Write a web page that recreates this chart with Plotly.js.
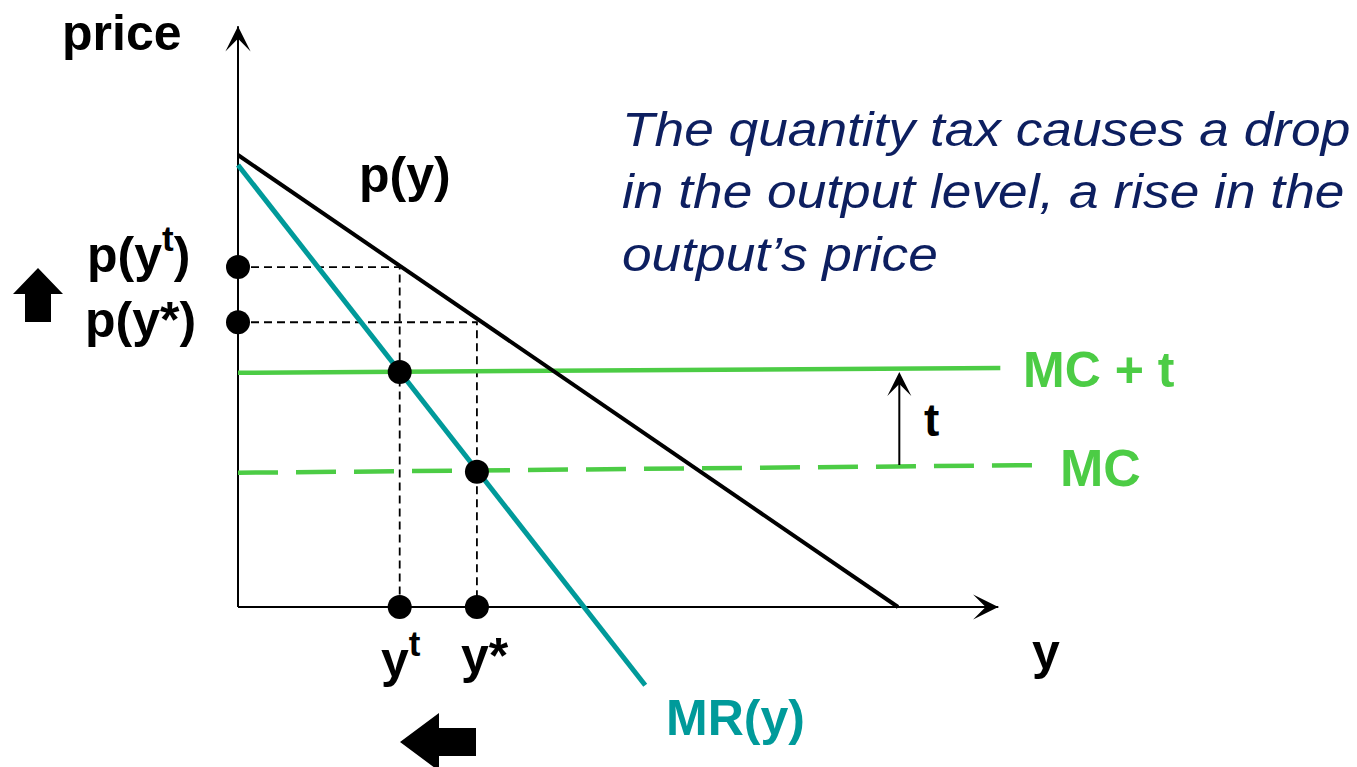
<!DOCTYPE html>
<html>
<head>
<meta charset="utf-8">
<script src="https://cdn.plot.ly/plotly-3.0.1.min.js"></script>
<style>html,body{margin:0;padding:0;background:#fff;}#chart{width:1357px;height:767px;}</style>
</head>
<body>
<div id="chart"></div>
<script>
// ---- data (quantity y, price p) ----
const demandQ = [0, 10];
const demandP = [10, 0];
const mrQ = [0, 6.17];
const mrP = [9.78, -1.73];
const mcQ = [0, 12.15];
const mcP = [2.97, 3.14];
const mctQ = [0, 11.55];
const mctP = [5.18, 5.29];
const yT = 2.45, yStar = 3.62;
const pYt = 7.52, pYstar = 6.30;
const mctAtYt = 5.20, mcAtYstar = 2.99;
const dotQ = [0, 0, yT, yStar, yT, yStar];
const dotP = [pYt, pYstar, mctAtYt, mcAtYstar, 0, 0];
const guideTQ = [0, yT, yT];
const guideTP = [pYt, pYt, 0];
const guideSQ = [0, yStar, yStar];
const guideSP = [pYstar, pYstar, 0];
const axisQmax = 11.52, axisPmax = 12.85;
const taxQ = 10.02, taxFrom = 3.11, taxTo = 5.20;

// ---- frame: pixel <-> data ----
const X0 = 238, Y0 = 607, SX = 66, SY = 45.2, W = 1357, H = 767;
const qx = px => (px - X0) / SX;
const py = pyy => (Y0 - pyy) / SY;
const poly = pts => 'M' + pts.map(p => qx(p[0]) + ',' + py(p[1])).join('L') + 'Z';

const FONT = 'Liberation Sans, Arial, sans-serif';
const GREEN = '#4ccc45', TEAL = '#009a9a', NAVY = '#0d1f60';

const traces = [
  {x: guideTQ, y: guideTP, mode: 'lines', line: {color: '#000', width: 1.8, dash: '8px,5px'}},
  {x: guideSQ, y: guideSP, mode: 'lines', line: {color: '#000', width: 1.8, dash: '8px,5px'}},
  {x: [0, axisQmax], y: [0, 0], mode: 'lines', line: {color: '#000', width: 2}},
  {x: [0, 0], y: [0, axisPmax], mode: 'lines', line: {color: '#000', width: 2}},
  {x: mcQ, y: mcP, mode: 'lines', line: {color: GREEN, width: 4.5, dash: '40px,18px'}},
  {x: mctQ, y: mctP, mode: 'lines', line: {color: GREEN, width: 4.5}},
  {x: demandQ, y: demandP, mode: 'lines', line: {color: '#000', width: 4}},
  {x: mrQ, y: mrP, mode: 'lines', line: {color: TEAL, width: 5}},
  {x: dotQ, y: dotP, mode: 'markers', marker: {color: '#000', size: 24}}
];

function lab(text, x, y, opts) {
  return Object.assign({text: text, x: x, y: y, xref: 'x', yref: 'y', showarrow: false,
    font: {family: FONT, size: 50, color: '#000', weight: 'bold'}, xanchor: 'center', yanchor: 'middle'}, opts || {});
}

const annotations = [
  lab('<b>price</b>', qx(122), py(33)),
  lab('<b>p(y)</b>', qx(405), py(175)),
  lab('<b>p(y<sup>t</sup>)</b>', qx(192), py(251), {xanchor: 'right'}),
  lab('<b>p(y*)</b>', qx(198), py(320), {xanchor: 'right'}),
  lab('<b>MC + t</b>', qx(1021), py(370), {xanchor: 'left', font: {family: FONT, size: 50, color: GREEN}}),
  lab('<b>MC</b>', qx(1058), py(468), {xanchor: 'left', font: {family: FONT, size: 52, color: GREEN}}),
  lab('<b>t</b>', qx(931), py(420), {font: {family: FONT, size: 46, color: '#000'}}),
  lab('<b>y</b>', qx(1046), py(652)),
  lab('<b>y<sup>t</sup></b>', qx(401), py(656)),
  lab('<b>y*</b>', qx(485), py(656)),
  lab('<b>MR(y)</b>', qx(735), py(718), {font: {family: FONT, size: 50, color: TEAL}}),
  lab('<i>The quantity tax causes a drop<br>in the output level, a rise in the<br>output\u2019s price</i>',
      qx(620), py(192), {xanchor: 'left', align: 'left', font: {family: FONT, size: 48, color: NAVY}}),
  // axis arrowheads
  {x: axisQmax, y: 0, ax: axisQmax - 1, ay: 0, axref: 'x', ayref: 'y', xref: 'x', yref: 'y', text: '',
   showarrow: true, arrowhead: 3, arrowsize: 2.1, arrowwidth: 2, arrowcolor: '#000', standoff: 0},
  {x: 0, y: axisPmax, ax: 0, ay: axisPmax - 1, axref: 'x', ayref: 'y', xref: 'x', yref: 'y', text: '',
   showarrow: true, arrowhead: 3, arrowsize: 2.1, arrowwidth: 2, arrowcolor: '#000', standoff: 0},
  // tax arrow
  {x: taxQ, y: taxTo, ax: taxQ, ay: taxFrom, axref: 'x', ayref: 'y', xref: 'x', yref: 'y', text: '',
   showarrow: true, arrowhead: 3, arrowsize: 2.0, arrowwidth: 2, arrowcolor: '#000', standoff: 0}
];

const shapes = [
  {type: 'path', xref: 'x', yref: 'y', fillcolor: '#000', line: {width: 0},
   path: poly([[38,268],[63,294],[51,294],[51,322],[25,322],[25,294],[13,294]])},
  {type: 'path', xref: 'x', yref: 'y', fillcolor: '#000', line: {width: 0},
   path: poly([[400,742],[439,713],[439,728],[476,728],[476,756],[439,756],[439,771]])}
];

const layout = {
  width: W, height: H,
  margin: {l: 0, r: 0, t: 0, b: 0},
  paper_bgcolor: '#fff', plot_bgcolor: '#fff',
  showlegend: false,
  xaxis: {range: [qx(0), qx(W)], visible: false, fixedrange: true},
  yaxis: {range: [py(H), py(0)], visible: false, fixedrange: true},
  annotations: annotations,
  shapes: shapes
};

Plotly.newPlot('chart', traces, layout, {staticPlot: true, displayModeBar: false}).then(function (gd) {
  // the reference's italic note is slightly wider than Liberation Sans at this height: stretch it horizontally
  const g = gd.querySelector('g.annotation[data-index="11"] text.annotation-text');
  if (g) {
    const bb = g.getBBox();
    const s = 1.11;
    const prev = g.getAttribute('transform') || '';
    g.setAttribute('transform', prev + ' translate(' + bb.x + ',0) scale(' + s + ',1) translate(' + (-bb.x) + ',0)');
  }
});
</script>
</body>
</html>
